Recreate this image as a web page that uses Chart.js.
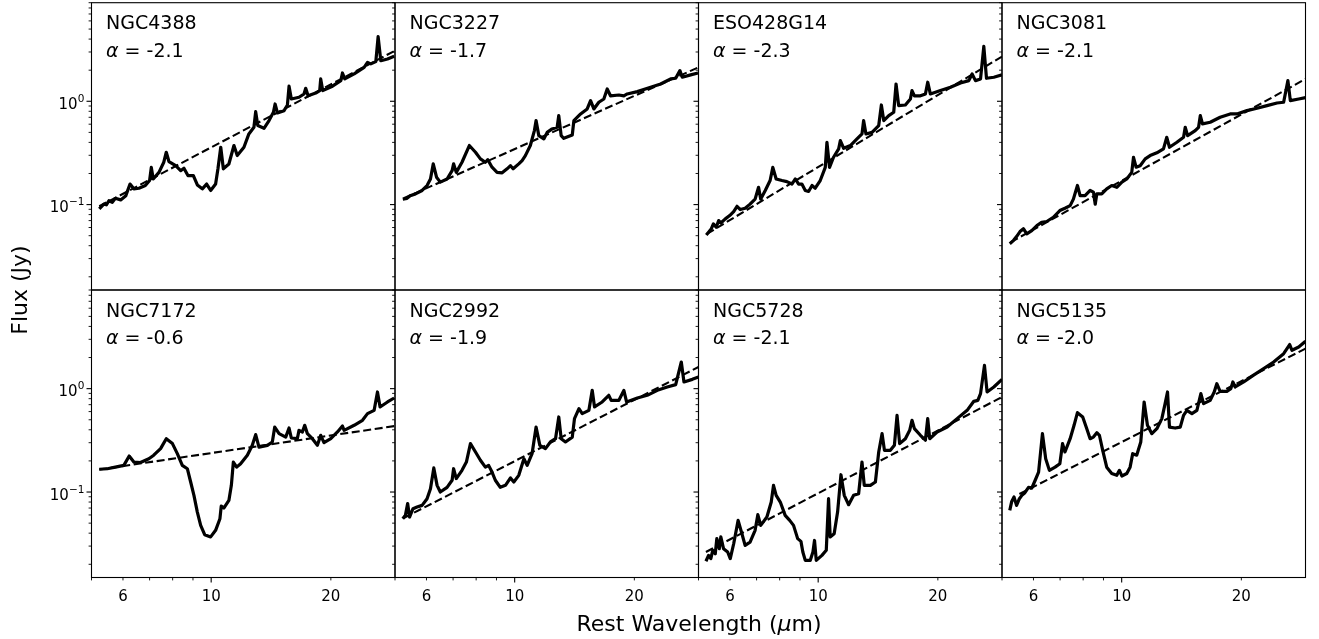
<!DOCTYPE html>
<html>
<head>
<meta charset="utf-8">
<script src="https://cdn.jsdelivr.net/npm/chart.js@4.4.1/dist/chart.umd.min.js"></script>
<style>
  body { margin: 0; background: #fff; }
  #wrap { position: relative; width: 1319px; height: 639px; }
  #wrap canvas { position: absolute; left: 0; top: 0; }
</style>
</head>
<body>
<div id="wrap"></div>
<script>
'use strict';

// Spektren: [Wellenlänge (µm), Fluss (Jy)]
const ngc4388 = [[5.23,0.091],[5.37,0.101],[5.45,0.0995],[5.53,0.109],[5.64,0.105],[5.74,0.115],[5.92,0.111],[6.10,0.122],[6.25,0.158],[6.39,0.142],[6.58,0.144],[6.83,0.153],[7.00,0.171],[7.07,0.229],[7.15,0.177],[7.39,0.205],[7.60,0.257],[7.71,0.321],[7.83,0.261],[8.14,0.238],[8.38,0.213],[8.54,0.225],[8.74,0.191],[9.02,0.191],[9.23,0.155],[9.50,0.142],[9.74,0.158],[9.97,0.137],[10.26,0.158],[10.40,0.222],[10.57,0.359],[10.73,0.222],[11.08,0.247],[11.41,0.373],[11.63,0.298],[12.09,0.359],[12.44,0.483],[12.81,0.56],[12.94,0.794],[13.10,0.582],[13.58,0.548],[13.98,0.65],[14.34,0.783],[14.48,0.942],[14.68,0.771],[15.25,0.81],[15.55,0.92],[15.70,1.40],[15.91,1.053],[16.63,1.093],[17.12,1.177],[17.29,1.336],[17.53,1.13],[18.32,1.20],[18.75,1.27],[18.86,1.645],[19.08,1.27],[20.19,1.40],[21.19,1.585],[21.39,1.88],[21.68,1.645],[22.89,1.84],[24.25,2.13],[24.73,2.38],[25.21,2.30],[25.95,2.42],[26.30,4.22],[26.71,2.47],[27.77,2.57],[28.86,2.73]];
const ngc3227 = [[5.23,0.113],[5.36,0.115],[5.46,0.122],[5.63,0.127],[5.85,0.137],[6.02,0.153],[6.14,0.177],[6.24,0.248],[6.36,0.184],[6.50,0.165],[6.76,0.177],[6.96,0.213],[7.02,0.248],[7.13,0.205],[7.37,0.257],[7.69,0.373],[7.97,0.321],[8.20,0.277],[8.44,0.257],[8.56,0.272],[8.77,0.230],[9.03,0.205],[9.30,0.203],[9.57,0.222],[9.76,0.238],[9.91,0.222],[10.24,0.248],[10.44,0.267],[10.64,0.298],[10.95,0.373],[11.21,0.52],[11.32,0.65],[11.50,0.465],[11.84,0.432],[12.07,0.50],[12.42,0.54],[12.79,0.56],[12.91,0.727],[13.09,0.465],[13.29,0.438],[13.96,0.472],[14.09,0.65],[14.65,0.754],[15.22,0.843],[15.52,1.015],[15.82,0.843],[16.28,0.978],[16.76,1.053],[17.09,1.316],[17.42,1.13],[18.29,1.15],[18.82,1.13],[19.19,1.177],[20.35,1.24],[21.98,1.366],[23.29,1.47],[24.68,1.645],[25.41,1.67],[26.04,1.98],[26.40,1.71],[27.71,1.80],[28.92,1.88]];
const eso428g14 = [[5.23,0.0508],[5.30,0.0541],[5.38,0.058],[5.45,0.065],[5.54,0.0604],[5.62,0.070],[5.69,0.0663],[5.84,0.0727],[5.99,0.0783],[6.13,0.0856],[6.25,0.0963],[6.37,0.0895],[6.55,0.0921],[6.74,0.101],[6.94,0.113],[7.08,0.147],[7.17,0.113],[7.36,0.137],[7.57,0.171],[7.69,0.229],[7.84,0.177],[8.11,0.171],[8.34,0.167],[8.59,0.158],[8.76,0.177],[8.93,0.158],[9.10,0.158],[9.28,0.137],[9.46,0.134],[9.65,0.153],[9.83,0.144],[10.12,0.171],[10.42,0.229],[10.52,0.401],[10.68,0.229],[10.93,0.287],[11.26,0.346],[11.37,0.416],[11.59,0.351],[12.05,0.373],[12.52,0.432],[12.89,0.483],[13.01,0.65],[13.19,0.483],[13.66,0.50],[14.20,0.582],[14.42,0.921],[14.62,0.65],[15.05,0.727],[15.49,0.783],[15.70,1.47],[15.94,0.908],[16.57,0.921],[17.06,1.053],[17.22,1.27],[17.46,1.13],[18.08,1.13],[18.61,1.177],[18.86,1.53],[19.15,1.177],[20.31,1.27],[21.51,1.366],[22.80,1.505],[23.93,1.585],[24.39,1.84],[24.87,1.585],[25.61,1.645],[26.10,3.40],[26.51,1.67],[27.66,1.71],[29.0,1.80]];
const ngc3081 = [[5.23,0.0418],[5.34,0.0448],[5.44,0.049],[5.55,0.0548],[5.66,0.0584],[5.77,0.052],[5.94,0.056],[6.12,0.0626],[6.29,0.0675],[6.48,0.0686],[6.73,0.0754],[6.99,0.0875],[7.20,0.0921],[7.42,0.0977],[7.56,0.113],[7.74,0.153],[7.86,0.122],[8.09,0.122],[8.33,0.137],[8.49,0.132],[8.58,0.101],[8.66,0.127],[8.91,0.127],[9.17,0.142],[9.44,0.153],[9.72,0.147],[10.01,0.165],[10.30,0.177],[10.60,0.205],[10.71,0.287],[10.87,0.230],[11.13,0.238],[11.46,0.277],[11.79,0.298],[12.26,0.317],[12.74,0.346],[12.98,0.448],[13.19,0.359],[13.77,0.401],[14.31,0.448],[14.45,0.56],[14.65,0.465],[15.31,0.52],[15.61,0.56],[15.77,0.727],[15.97,0.604],[16.70,0.626],[17.69,0.70],[18.75,0.754],[19.49,0.754],[20.66,0.812],[21.90,0.855],[23.20,0.908],[24.59,0.963],[25.55,0.978],[26.19,1.585],[26.56,1.015],[27.88,1.053],[29.0,1.085]];
const ngc7172 = [[5.23,0.166],[5.48,0.168],[5.74,0.174],[6.03,0.181],[6.22,0.223],[6.39,0.195],[6.64,0.193],[6.97,0.21],[7.17,0.227],[7.46,0.263],[7.71,0.328],[7.99,0.294],[8.22,0.235],[8.46,0.181],[8.71,0.168],[8.88,0.125],[9.05,0.0929],[9.23,0.064],[9.41,0.0476],[9.63,0.0387],[9.97,0.0368],[10.26,0.0426],[10.52,0.0552],[10.60,0.0731],[10.76,0.070],[11.08,0.0830],[11.24,0.116],[11.37,0.195],[11.59,0.174],[11.86,0.188],[12.33,0.227],[12.69,0.283],[12.94,0.359],[13.19,0.272],[13.85,0.283],[14.25,0.305],[14.45,0.425],[14.82,0.367],[15.40,0.34],[15.70,0.416],[15.91,0.333],[16.47,0.328],[16.63,0.395],[16.96,0.381],[17.19,0.442],[17.46,0.367],[17.97,0.328],[18.50,0.283],[18.86,0.354],[19.22,0.300],[19.99,0.328],[20.78,0.381],[21.39,0.435],[21.60,0.395],[22.89,0.442],[24.02,0.494],[24.73,0.573],[25.70,0.617],[26.20,0.929],[26.60,0.665],[27.77,0.743],[28.86,0.812]];
const ngc2992 = [[5.23,0.0552],[5.31,0.0595],[5.38,0.0774],[5.44,0.0573],[5.55,0.069],[5.68,0.0717],[5.85,0.0743],[6.02,0.0862],[6.14,0.1077],[6.26,0.171],[6.38,0.116],[6.50,0.100],[6.76,0.111],[6.96,0.130],[7.02,0.168],[7.13,0.135],[7.37,0.162],[7.56,0.195],[7.74,0.294],[7.97,0.244],[8.20,0.203],[8.44,0.174],[8.60,0.181],[8.77,0.156],[8.94,0.130],[9.20,0.111],[9.48,0.116],[9.76,0.137],[9.95,0.125],[10.24,0.145],[10.55,0.21],[10.75,0.181],[11.06,0.235],[11.32,0.425],[11.57,0.283],[11.95,0.263],[12.30,0.305],[12.67,0.328],[12.91,0.532],[13.09,0.328],[13.42,0.305],[13.96,0.34],[14.14,0.513],[14.51,0.64],[14.79,0.573],[15.37,0.617],[15.67,0.963],[15.88,0.665],[16.60,0.743],[17.25,0.862],[17.49,0.771],[18.29,0.771],[18.82,0.963],[19.12,0.743],[20.35,0.812],[21.55,0.862],[22.85,0.963],[24.20,1.038],[25.41,1.093],[26.25,1.81],[26.66,1.16],[27.98,1.23],[29.0,1.297]];
const ngc5728 = [[5.22,0.0214],[5.30,0.0244],[5.37,0.0227],[5.43,0.0273],[5.51,0.0253],[5.56,0.0354],[5.64,0.0283],[5.69,0.0368],[5.78,0.0283],[5.92,0.0263],[6.01,0.0227],[6.13,0.0316],[6.29,0.0532],[6.43,0.0395],[6.55,0.0305],[6.74,0.0328],[6.94,0.0426],[7.05,0.0604],[7.17,0.0476],[7.43,0.0573],[7.62,0.080],[7.72,0.116],[7.84,0.0929],[8.03,0.080],[8.26,0.0595],[8.48,0.0532],[8.67,0.0476],[8.88,0.0354],[9.05,0.0333],[9.15,0.0263],[9.28,0.0218],[9.55,0.0218],[9.70,0.0263],[9.79,0.034],[9.89,0.0218],[10.22,0.0244],[10.48,0.0273],[10.62,0.0862],[10.72,0.0368],[10.97,0.0395],[11.19,0.064],[11.41,0.147],[11.63,0.0929],[11.93,0.0754],[12.28,0.0929],[12.64,0.0963],[12.89,0.195],[13.06,0.116],[13.53,0.116],[13.93,0.125],[14.20,0.244],[14.48,0.367],[14.68,0.253],[15.19,0.253],[15.55,0.283],[15.79,0.552],[16.03,0.294],[16.57,0.328],[16.99,0.395],[17.22,0.494],[17.46,0.41],[18.08,0.354],[18.61,0.317],[18.86,0.513],[19.08,0.328],[19.91,0.381],[21.11,0.425],[22.36,0.513],[23.70,0.617],[24.63,0.754],[25.21,0.771],[25.61,0.895],[26.20,1.68],[26.60,0.929],[27.66,1.038],[29.0,1.23]];
const ngc5135 = [[5.23,0.0664],[5.29,0.0812],[5.36,0.0895],[5.44,0.0743],[5.53,0.0862],[5.61,0.0929],[5.71,0.0985],[5.83,0.111],[5.94,0.109],[6.06,0.130],[6.18,0.156],[6.32,0.367],[6.44,0.21],[6.58,0.162],[6.80,0.174],[6.99,0.188],[7.10,0.294],[7.20,0.244],[7.42,0.328],[7.59,0.442],[7.74,0.586],[7.98,0.532],[8.17,0.41],[8.33,0.328],[8.49,0.34],[8.66,0.375],[8.79,0.354],[8.96,0.253],[9.17,0.174],[9.44,0.151],[9.72,0.145],[9.87,0.162],[10.01,0.143],[10.30,0.151],[10.50,0.174],[10.66,0.235],[10.91,0.227],[11.17,0.305],[11.39,0.743],[11.61,0.442],[11.91,0.367],[12.26,0.41],[12.62,0.513],[12.86,0.716],[13.04,0.929],[13.19,0.425],[13.63,0.416],[14.04,0.425],[14.31,0.552],[14.59,0.617],[15.02,0.573],[15.46,0.617],[15.82,0.895],[16.07,0.716],[16.70,0.771],[17.09,0.929],[17.35,1.117],[17.69,0.942],[18.39,0.942],[18.82,1.0],[19.04,1.16],[19.30,1.038],[20.27,1.16],[21.47,1.35],[22.76,1.56],[24.11,1.81],[25.55,2.18],[26.46,2.67],[26.82,2.35],[27.88,2.53],[29.0,2.87]];

// Potenzgesetz-Fits (gestrichelt): Anfangs- und Endpunkt
const fit4388 = [[5.23,0.0963],[29.0,3.09]];
const fit3227 = [[5.26,0.115],[29.0,2.13]];
const fitEso428 = [[5.25,0.052],[29.0,2.71]];
const fit3081 = [[5.26,0.0433],[29.0,1.645]];
const fit7172 = [[5.23,0.165],[29.0,0.435]];
const fit2992 = [[5.26,0.0561],[29.0,1.62]];
const fit5728 = [[5.22,0.0263],[29.0,0.83]];
const fit5135 = [[5.53,0.0957],[29.0,2.44]];

const panelNames = ['NGC4388', 'NGC3227', 'ESO428G14', 'NGC3081', 'NGC7172', 'NGC2992', 'NGC5728', 'NGC5135'];
const panelAlpha = ['-2.1', '-1.7', '-2.3', '-2.1', '-0.6', '-1.9', '-2.1', '-2.0'];
const spectra = [ngc4388, ngc3227, eso428g14, ngc3081, ngc7172, ngc2992, ngc5728, ngc5135];
const fits = [fit4388, fit3227, fitEso428, fit3081, fit7172, fit2992, fit5728, fit5135];

// Achsen
const xRange = [5, 29];
const yRange = [0.0149, 9];
const xMajorTicks = [10];
const xMinorTicks = [5, 6, 7, 8, 9, 20];
const xTickLabels = [6, 10, 20];
const yMajorTicks = [0.1, 1];
const yMajorExp = ['\u22121', '0'];
const yMinorTicks = [0.02, 0.03, 0.04, 0.05, 0.06, 0.07, 0.08, 0.09, 0.2, 0.3, 0.4, 0.5, 0.6, 0.7, 0.8, 0.9, 2, 3, 4, 5, 6, 7, 8, 9];

const FONT = '"DejaVu Sans", "Noto Sans", sans-serif';
const PANEL_LEFT = 91.5;
const PANEL_W = 303.5;
const ROW_TOP = [2.7, 290];
const ROW_BOTTOM = [290, 577.5];

// Hilfsfunktion: mehrteiliger Text (normal/kursiv) nebeneinander
function drawParts(ctx, parts, x, y, size) {
  let cx = x;
  parts.forEach(([txt, italic]) => {
    ctx.font = `${italic ? 'italic ' : ''}${size}px ${FONT}`;
    ctx.fillText(txt, cx, y);
    cx += ctx.measureText(txt).width;
  });
  return cx - x;
}

function partsWidth(ctx, parts, size) {
  let w = 0;
  parts.forEach(([txt, italic]) => {
    ctx.font = `${italic ? 'italic ' : ''}${size}px ${FONT}`;
    w += ctx.measureText(txt).width;
  });
  return w;
}

function tickLine(ctx, x0, y0, x1, y1, w) {
  ctx.lineWidth = w;
  ctx.beginPath();
  ctx.moveTo(x0, y0);
  ctx.lineTo(x1, y1);
  ctx.stroke();
}

// Rahmen, Ticks und Beschriftungen eines Panels
const panelFrame = {
  id: 'panelFrame',
  afterDatasetsDraw(chart, args, opts) {
    const { ctx, chartArea: a, scales: { x, y } } = chart;
    ctx.save();
    ctx.strokeStyle = '#000';
    ctx.fillStyle = '#000';
    ctx.lineWidth = 1.1;
    ctx.strokeRect(a.left, a.top, a.right - a.left, a.bottom - a.top);

    // y-Ticks links (nach außen)
    yMinorTicks.forEach(v => {
      const py = y.getPixelForValue(v);
      tickLine(ctx, a.left, py, a.left - 2.9, py, 0.9);
    });
    yMajorTicks.forEach(v => {
      const py = y.getPixelForValue(v);
      tickLine(ctx, a.left, py, a.left - 5, py, 1.1);
    });

    if (opts.col === 0) {
      ctx.textAlign = 'left';
      ctx.textBaseline = 'alphabetic';
      yMajorTicks.forEach((v, k) => {
        const py = y.getPixelForValue(v);
        const xr = a.left - 7;
        ctx.font = `10.5px ${FONT}`;
        const we = ctx.measureText(yMajorExp[k]).width;
        ctx.fillText(yMajorExp[k], xr - we, py + 0.8);
        ctx.font = `15px ${FONT}`;
        const wb = ctx.measureText('10').width;
        ctx.fillText('10', xr - we - wb - 0.3, py + 7.8);
      });
    }

    if (opts.row === 1) {
      xMinorTicks.forEach(v => {
        const px = x.getPixelForValue(v);
        tickLine(ctx, px, a.bottom, px, a.bottom + 2.9, 0.9);
      });
      xMajorTicks.forEach(v => {
        const px = x.getPixelForValue(v);
        tickLine(ctx, px, a.bottom, px, a.bottom + 5, 1.1);
      });
      ctx.font = `15px ${FONT}`;
      ctx.textAlign = 'center';
      ctx.textBaseline = 'alphabetic';
      xTickLabels.forEach(v => {
        ctx.fillText(String(v), x.getPixelForValue(v), a.bottom + 23.3);
      });
    }

    // Objektname und Spektralindex
    ctx.textAlign = 'left';
    ctx.textBaseline = 'alphabetic';
    ctx.font = `19px ${FONT}`;
    ctx.fillText(opts.name, a.left + 14.5, a.top + 26.5);
    drawParts(ctx, [['\u03b1', true], [' = ' + opts.alpha, false]], a.left + 14.5, a.top + 54, 19);

    // Gemeinsame Achsentitel nur einmal
    if (opts.index === 0) {
      const xl = [['Rest Wavelength (', false], ['\u03bc', true], ['m)', false]];
      const w = partsWidth(ctx, xl, 22);
      drawParts(ctx, xl, 699 - w / 2, 631, 22);
      ctx.save();
      ctx.translate(27, 290);
      ctx.rotate(-Math.PI / 2);
      ctx.textAlign = 'center';
      ctx.font = `22px ${FONT}`;
      ctx.fillText('Flux (Jy)', 0, 0);
      ctx.restore();
    }
    ctx.restore();
  }
};

const wrap = document.getElementById('wrap');

spectra.forEach((spec, i) => {
  const col = i % 4;
  const row = Math.floor(i / 4);
  const left = PANEL_LEFT + col * PANEL_W;
  const right = left + PANEL_W;
  const cv = document.createElement('canvas');
  cv.width = 1319;
  cv.height = 639;
  wrap.appendChild(cv);

  new Chart(cv, {
    type: 'line',
    data: {
      datasets: [
        {
          data: spec.map(([w, f]) => ({ x: w, y: f })),
          borderColor: '#000',
          borderWidth: 3.2,
          borderJoinStyle: 'round',
          pointRadius: 0,
          tension: 0,
          fill: false,
          clip: 0,
        },
        {
          data: fits[i].map(([w, f]) => ({ x: w, y: f })),
          borderColor: '#000',
          borderWidth: 2.1,
          borderDash: [8, 3.6],
          pointRadius: 0,
          tension: 0,
          fill: false,
          clip: 0,
        },
      ],
    },
    options: {
      responsive: false,
      animation: false,
      devicePixelRatio: 1,
      events: [],
      layout: {
        padding: { left: left, top: ROW_TOP[row], right: 1319 - right, bottom: 639 - ROW_BOTTOM[row] },
      },
      plugins: {
        legend: { display: false },
        tooltip: { enabled: false },
        panelFrame: { index: i, col, row, name: panelNames[i], alpha: panelAlpha[i] },
      },
      scales: {
        x: { type: 'logarithmic', min: xRange[0], max: xRange[1], display: false },
        y: { type: 'logarithmic', min: yRange[0], max: yRange[1], display: false },
      },
    },
    plugins: [panelFrame],
  });
});
</script>
</body>
</html>
